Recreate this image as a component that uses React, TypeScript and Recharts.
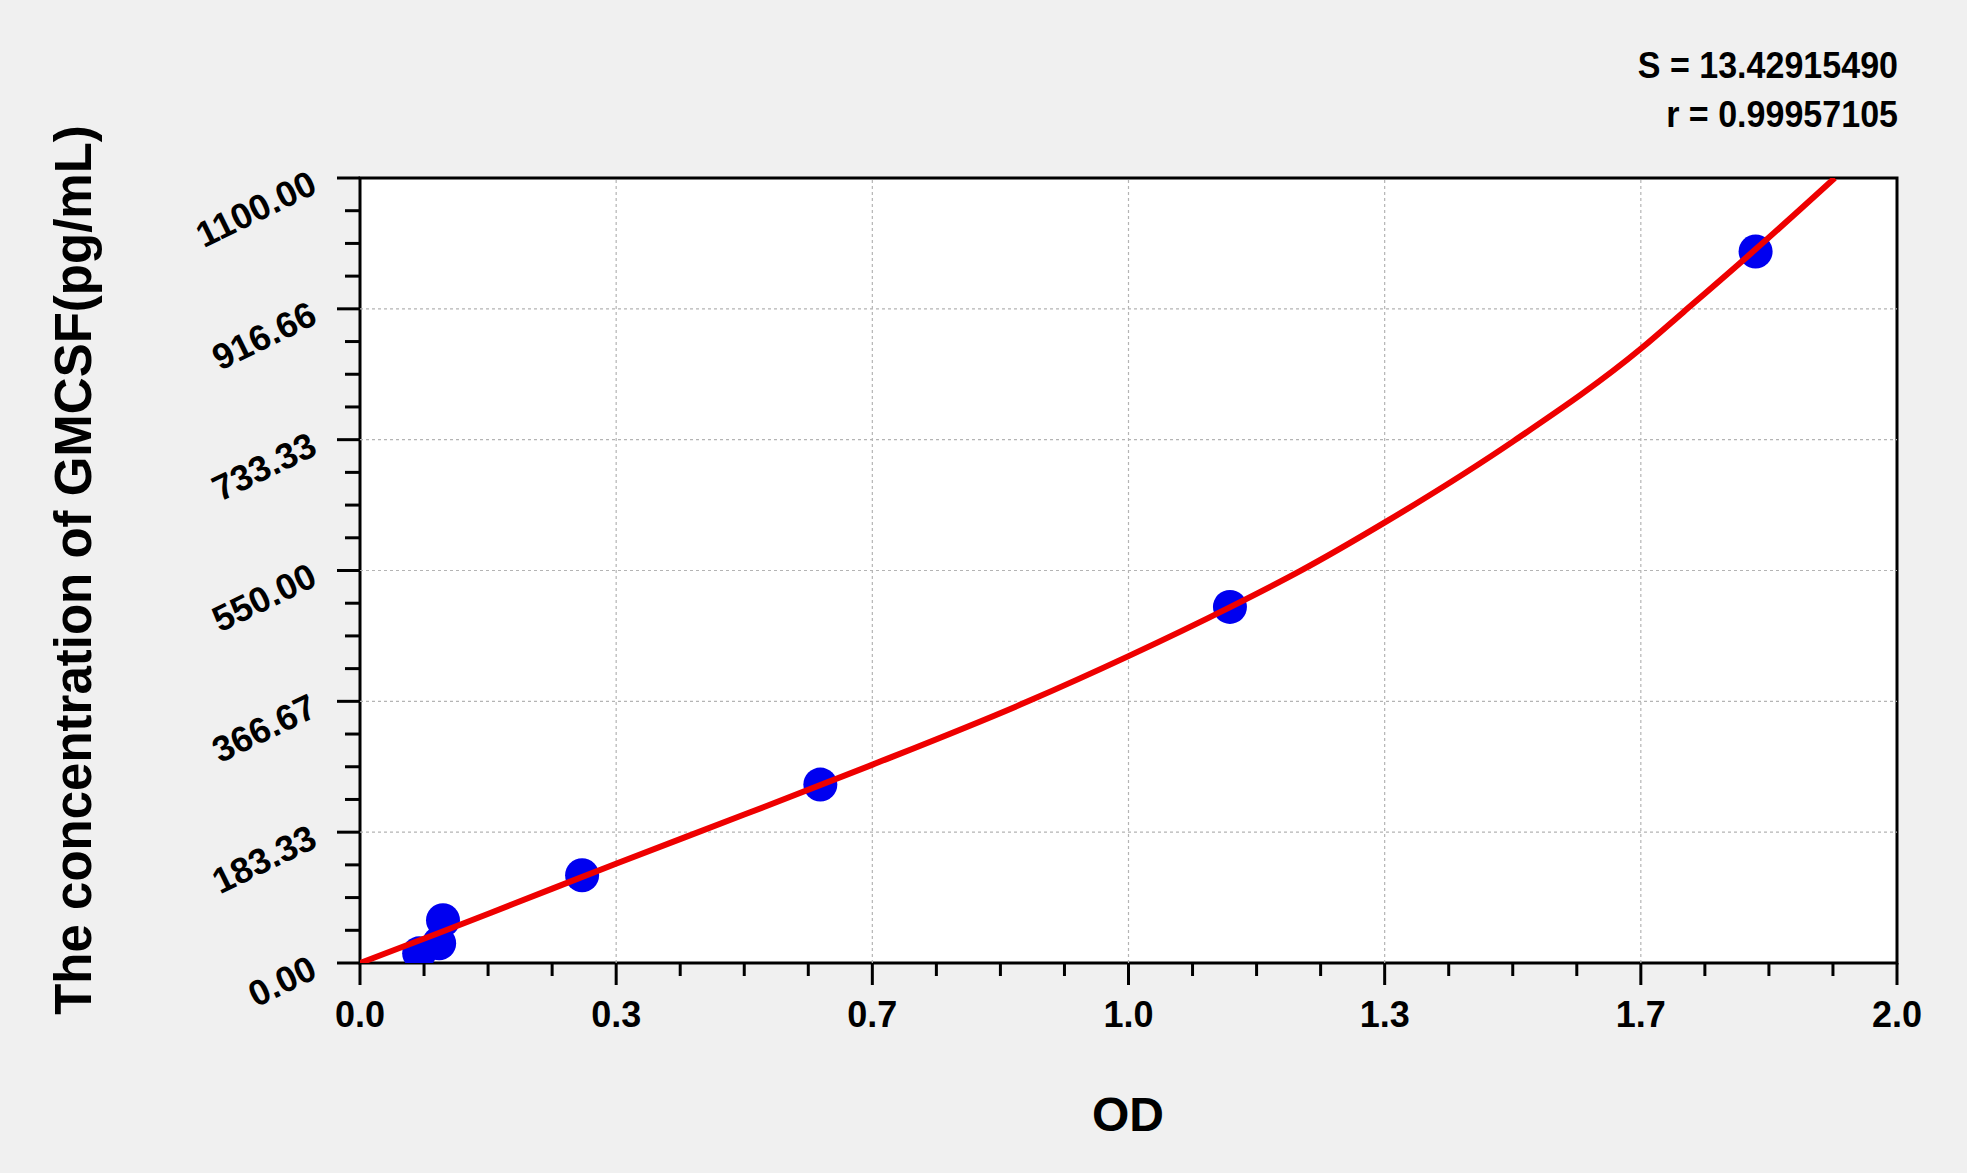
import React from "react";
import {
  ComposedChart,
  Line,
  Scatter,
  XAxis,
  YAxis,
  CartesianGrid,
  ReferenceLine,
  ReferenceArea,
} from "recharts";

// ---- data ----
const standardOD = [0.077, 0.103, 0.108, 0.289, 0.599, 1.132, 1.816];
const standardConc = [13.5, 27.6, 60, 123, 250, 499, 997];

const curveOD = [0, 0.1, 0.2, 0.333, 0.5, 0.667, 0.87, 1.0, 1.133, 1.223, 1.333, 1.502, 1.667, 1.722, 1.816, 1.919];
const curveConc = [0, 41, 83, 139, 208, 278, 367, 430, 499, 549, 617, 732, 861, 912, 1000, 1100];

const xMajorTicks = [0, 1 / 3, 2 / 3, 1, 4 / 3, 5 / 3, 2];
const xTickLabels = ["0.0", "0.3", "0.7", "1.0", "1.3", "1.7", "2.0"];
const xMinorTicks = [
  1 / 12, 2 / 12, 3 / 12, 5 / 12, 6 / 12, 7 / 12, 9 / 12, 10 / 12, 11 / 12,
  13 / 12, 14 / 12, 15 / 12, 17 / 12, 18 / 12, 19 / 12, 21 / 12, 22 / 12, 23 / 12,
];

const yMajorTicks = [0, 183.33, 366.67, 550, 733.33, 916.66, 1100];
const yTickLabels = ["0.00", "183.33", "366.67", "550.00", "733.33", "916.66", "1100.00"];
const yMinorTicks = [
  45.83, 91.67, 137.5, 229.17, 275, 320.83, 412.5, 458.33, 504.17,
  595.83, 641.67, 687.5, 779.17, 825, 870.83, 962.5, 1008.33, 1054.17,
];

const statLines = ["S = 13.42915490", "r = 0.99957105"];
const xTitle = "OD";
const yTitle = "The concentration of GMCSF(pg/mL)";

const pointData = standardOD.map((x, i) => ({ x, y: standardConc[i] }));
const curveData = curveOD.map((x, i) => ({ x, y: curveConc[i] }));
const xAllTicks = [...xMajorTicks, ...xMinorTicks].sort((a, b) => a - b);
const yAllTicks = [...yMajorTicks, ...yMinorTicks].sort((a, b) => a - b);

const FONT = "'Liberation Sans', Arial, Helvetica, sans-serif";

const findMajor = (arr: number[], v: number) =>
  arr.findIndex((m) => Math.abs(m - v) < 1e-6);

const XTick = (props: any) => {
  const { x, y, payload } = props;
  const idx = findMajor(xMajorTicks, payload.value);
  const major = idx >= 0;
  return (
    <g>
      <line x1={x} x2={x} y1={y} y2={y + (major ? 22 : 13)} stroke="#000" strokeWidth={3} />
      {major && (
        <text
          x={x}
          y={y + 64}
          textAnchor="middle"
          fontSize={36}
          fontWeight="bold"
          fontFamily={FONT}
          fill="#000"
        >
          {xTickLabels[idx]}
        </text>
      )}
    </g>
  );
};

const YTick = (props: any) => {
  const { x, y, payload } = props;
  const idx = findMajor(yMajorTicks, payload.value);
  const major = idx >= 0;
  const tx = x - 41;
  const ty = y + 14;
  return (
    <g>
      <line x1={x} x2={x - (major ? 23 : 15)} y1={y} y2={y} stroke="#000" strokeWidth={3} />
      {major && (
        <text
          x={tx}
          y={ty}
          textAnchor="end"
          transform={`rotate(-26 ${tx} ${ty})`}
          fontSize={36}
          fontWeight="bold"
          fontFamily={FONT}
          fill="#000"
        >
          {yTickLabels[idx]}
        </text>
      )}
    </g>
  );
};

const Dot = (props: any) => {
  const { cx, cy } = props;
  return <circle cx={cx} cy={cy} r={17} fill="#0000f0" />;
};

export default function App() {
  return (
    <div
      style={{
        position: "absolute",
        left: 0,
        top: 0,
        width: 1967,
        height: 1173,
        background: "#f0f0f0",
        overflow: "hidden",
      }}
    >
      <ComposedChart
        width={1967}
        height={1173}
        margin={{ top: 178, right: 70, bottom: 0, left: 0 }}
      >
        <CartesianGrid horizontal={false} vertical={false} fill="#ffffff" />
        <XAxis
          type="number"
          dataKey="x"
          domain={[0, 2]}
          ticks={xAllTicks}
          interval={0}
          height={210}
          tickSize={0}
          tickMargin={0}
          tickLine={false}
          axisLine={false}
          tick={<XTick />}
          allowDataOverflow
        />
        <YAxis
          type="number"
          dataKey="y"
          domain={[0, 1100]}
          ticks={yAllTicks}
          interval={0}
          width={360}
          tickSize={0}
          tickMargin={0}
          tickLine={false}
          axisLine={false}
          tick={<YTick />}
          allowDataOverflow
        />
        {xMajorTicks.slice(1, -1).map((v) => (
          <ReferenceLine
            key={"vx" + v}
            x={v}
            stroke="#b4b4b4"
            strokeWidth={1.2}
            strokeDasharray="3 3"
          />
        ))}
        {yMajorTicks.slice(1, -1).map((v) => (
          <ReferenceLine
            key={"hy" + v}
            y={v}
            stroke="#b4b4b4"
            strokeWidth={1.2}
            strokeDasharray="3 3"
          />
        ))}
        <Scatter
          data={pointData}
          dataKey="y"
          shape={<Dot />}
          isAnimationActive={false}
          zIndex={300}
        />
        <Line
          data={curveData}
          dataKey="y"
          type="monotone"
          stroke="#ee0000"
          strokeWidth={6}
          dot={false}
          activeDot={false}
          isAnimationActive={false}
          zIndex={700}
        />
        <ReferenceArea
          x1={0}
          x2={2}
          y1={0}
          y2={1100}
          fill="none"
          fillOpacity={0}
          stroke="#000"
          strokeWidth={3}
        />
      </ComposedChart>
      <svg
        width={1967}
        height={1173}
        style={{ position: "absolute", left: 0, top: 0, pointerEvents: "none" }}
      >
        <text
          transform="translate(1898 78) scale(0.92 1)"
          x={0}
          y={0}
          textAnchor="end"
          fontSize={37}
          fontWeight="bold"
          fontFamily={FONT}
          fill="#000"
        >
          {statLines[0]}
        </text>
        <text
          transform="translate(1898 127) scale(0.92 1)"
          x={0}
          y={0}
          textAnchor="end"
          fontSize={37}
          fontWeight="bold"
          fontFamily={FONT}
          fill="#000"
        >
          {statLines[1]}
        </text>
        <text
          x={1128}
          y={1131}
          textAnchor="middle"
          fontSize={48}
          fontWeight="bold"
          fontFamily={FONT}
          fill="#000"
        >
          {xTitle}
        </text>
        <text
          x={91}
          y={570}
          textAnchor="middle"
          transform="rotate(-90 91 570)"
          fontSize={51}
          fontWeight="bold"
          fontFamily={FONT}
          fill="#000"
        >
          {yTitle}
        </text>
      </svg>
    </div>
  );
}
